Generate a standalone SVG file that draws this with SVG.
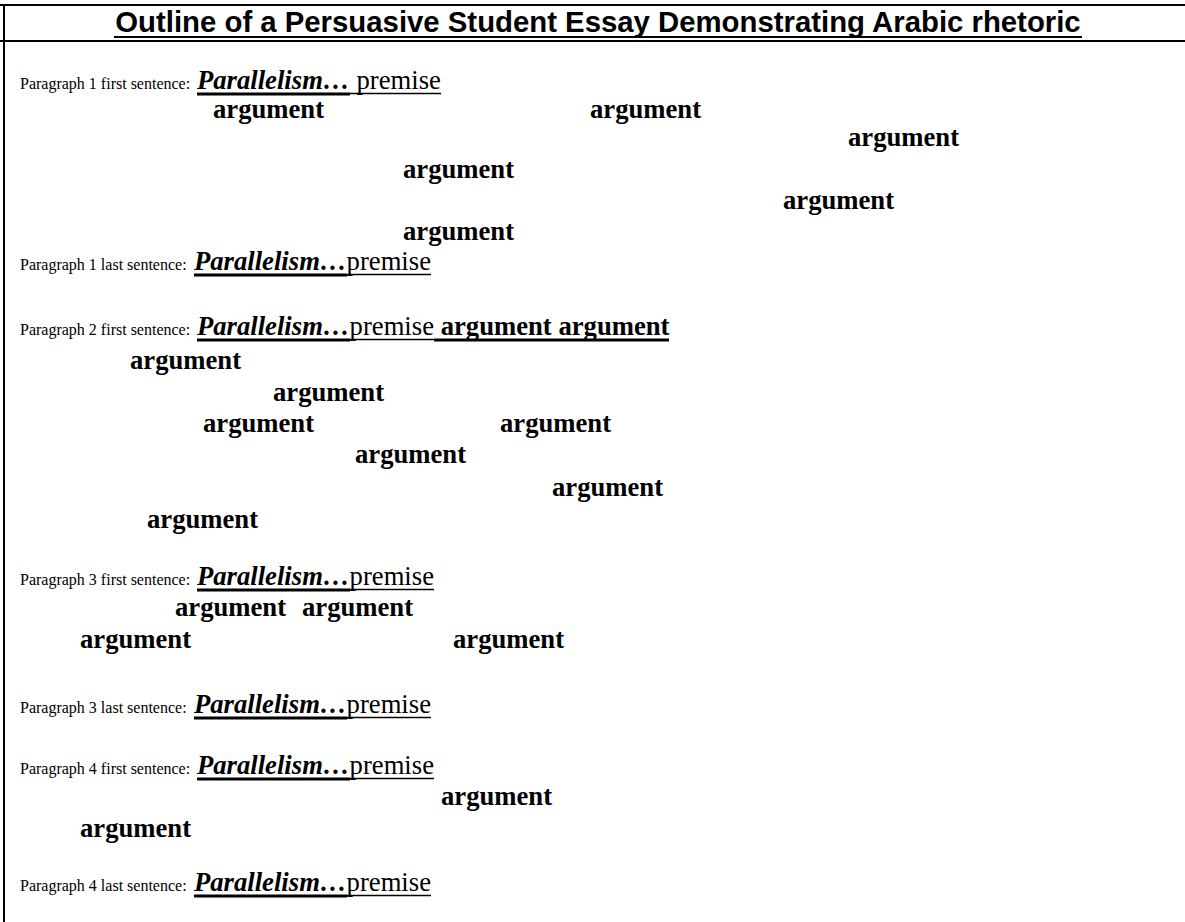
<svg xmlns="http://www.w3.org/2000/svg" width="1185" height="922" viewBox="0 0 1185 922">
<style>
.frame{stroke:#000;stroke-width:2;fill:none}
.title{font-family:"Liberation Sans",Arial,sans-serif;font-weight:bold;font-size:29.33px;fill:#000}
.lbl{font-family:"Liberation Serif","Times New Roman",serif;font-size:16px;fill:#000}
.par{font-family:"Liberation Serif","Times New Roman",serif;font-size:26.67px;font-weight:bold;font-style:italic;fill:#000}
.prem{font-family:"Liberation Serif","Times New Roman",serif;font-size:26.67px;fill:#000}
.arg{font-family:"Liberation Serif","Times New Roman",serif;font-size:26.67px;font-weight:bold;fill:#000}
.ul{stroke:#000;stroke-width:3}
.ult{stroke:#000;stroke-width:1.5}
</style>
<rect width="1185" height="922" fill="#fff"/>
<g id="frame">
<line class="frame" x1="0" y1="5" x2="1185" y2="5"/>
<line class="frame" x1="0" y1="41" x2="1185" y2="41"/>
<line class="frame" x1="4" y1="4" x2="4" y2="922"/>
</g>
<g id="title">
<text class="title" x="598" y="32" text-anchor="middle">Outline of a Persuasive Student Essay Demonstrating Arabic rhetoric</text>
<line x1="114" y1="37" x2="1082" y2="37" stroke="#000" stroke-width="2"/>
</g>
<g id="p1-first">
<text class="lbl" x="20" y="89">Paragraph 1 first sentence:</text>
<text class="par" x="197" y="89">Parallelism…</text>
<text class="prem" x="356.5" y="89">premise</text>
<line class="ul" x1="197" y1="94" x2="350" y2="94"/>
<line class="ult" x1="350" y1="93.5" x2="441" y2="93.5"/>
</g>
<g id="p1-args">
<text class="arg" x="213" y="118">argument</text>
<text class="arg" x="590" y="118">argument</text>
<text class="arg" x="848" y="146">argument</text>
<text class="arg" x="403" y="178">argument</text>
<text class="arg" x="783" y="209">argument</text>
<text class="arg" x="403" y="240">argument</text>
</g>
<g id="p1-last">
<text class="lbl" x="20" y="270">Paragraph 1 last sentence:</text>
<text class="par" x="194" y="270">Parallelism…</text>
<text class="prem" x="346.6" y="270">premise</text>
<line class="ul" x1="194" y1="275" x2="347" y2="275"/>
<line class="ult" x1="347" y1="274.5" x2="431" y2="274.5"/>
</g>
<g id="p2-first">
<text class="lbl" x="20" y="335">Paragraph 2 first sentence:</text>
<text class="par" x="197" y="335">Parallelism…</text>
<text class="prem" x="349.6" y="335">premise</text>
<text class="arg" x="440.7" y="335">argument argument</text>
<line class="ul" x1="197" y1="340" x2="350" y2="340"/>
<line class="ult" x1="350" y1="339.5" x2="434" y2="339.5"/>
<line class="ul" x1="434" y1="340" x2="669" y2="340"/>
</g>
<g id="p2-args">
<text class="arg" x="130" y="369">argument</text>
<text class="arg" x="273" y="401">argument</text>
<text class="arg" x="203" y="432">argument</text>
<text class="arg" x="500" y="432">argument</text>
<text class="arg" x="355" y="463">argument</text>
<text class="arg" x="552" y="496">argument</text>
<text class="arg" x="147" y="528">argument</text>
</g>
<g id="p3-first">
<text class="lbl" x="20" y="585">Paragraph 3 first sentence:</text>
<text class="par" x="197" y="585">Parallelism…</text>
<text class="prem" x="349.6" y="585">premise</text>
<line class="ul" x1="197" y1="590" x2="350" y2="590"/>
<line class="ult" x1="350" y1="589.5" x2="434" y2="589.5"/>
</g>
<g id="p3-args">
<text class="arg" x="175" y="616">argument</text>
<text class="arg" x="302" y="616">argument</text>
<text class="arg" x="80" y="648">argument</text>
<text class="arg" x="453" y="648">argument</text>
</g>
<g id="p3-last">
<text class="lbl" x="20" y="713">Paragraph 3 last sentence:</text>
<text class="par" x="194" y="713">Parallelism…</text>
<text class="prem" x="346.6" y="713">premise</text>
<line class="ul" x1="194" y1="718" x2="347" y2="718"/>
<line class="ult" x1="347" y1="717.5" x2="431" y2="717.5"/>
</g>
<g id="p4-first">
<text class="lbl" x="20" y="774">Paragraph 4 first sentence:</text>
<text class="par" x="197" y="774">Parallelism…</text>
<text class="prem" x="349.6" y="774">premise</text>
<line class="ul" x1="197" y1="779" x2="350" y2="779"/>
<line class="ult" x1="350" y1="778.5" x2="434" y2="778.5"/>
</g>
<g id="p4-args">
<text class="arg" x="441" y="805">argument</text>
<text class="arg" x="80" y="837">argument</text>
</g>
<g id="p4-last">
<text class="lbl" x="20" y="891">Paragraph 4 last sentence:</text>
<text class="par" x="194" y="891">Parallelism…</text>
<text class="prem" x="346.6" y="891">premise</text>
<line class="ul" x1="194" y1="896" x2="347" y2="896"/>
<line class="ult" x1="347" y1="895.5" x2="431" y2="895.5"/>
</g>
</svg>
